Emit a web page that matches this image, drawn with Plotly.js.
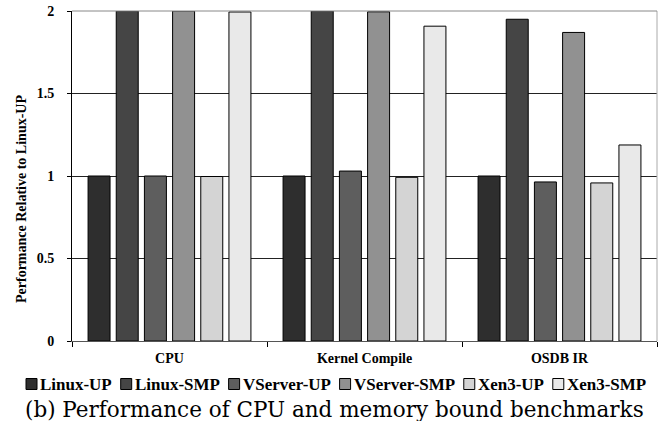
<!DOCTYPE html>
<html><head><meta charset="utf-8">
<script src="https://cdn.plot.ly/plotly-3.0.1.min.js"></script>
<style>html,body{margin:0;padding:0;background:#fff}#chart{width:669px;height:421px}</style>
</head><body><div id="chart"></div>
<script>
const categories = ["CPU", "Kernel Compile", "OSDB IR"];
const seriesNames = ["Linux-UP", "Linux-SMP", "VServer-UP", "VServer-SMP", "Xen3-UP", "Xen3-SMP"];
const linuxUP    = [1.00, 1.00, 1.00];
const linuxSMP   = [2.00, 2.00, 1.95];
const vserverUP  = [1.00, 1.03, 0.964];
const vserverSMP = [2.00, 1.995, 1.87];
const xen3UP     = [0.997, 0.992, 0.958];
const xen3SMP    = [1.994, 1.908, 1.188];
const yTicks = [0, 0.5, 1, 1.5, 2];
const yTickText = ["0", "0.5", "1", "1.5", "2"];
const yTitle = "Performance Relative to Linux-UP";
const caption = "(b) Performance of CPU and memory bound benchmarks";

const seriesValues = [linuxUP, linuxSMP, vserverUP, vserverSMP, xen3UP, xen3SMP];
const colors = ["#2e2e2e", "#454545", "#5e5e5e", "#919191", "#d4d4d4", "#e9e9e9"];
const serif = "Liberation Serif, Times New Roman, serif";

const W = 669, H = 421;
const M = {l: 72, r: 12, t: 11, b: 80};
const pw = W - M.l - M.r, ph = H - M.t - M.b;
const px2x = px => (px - M.l) / pw;
const py2y = py => (H - M.b - py) / ph;

const traces = seriesNames.map((n, i) => ({
  type: "bar", name: n, x: categories, y: seriesValues[i],
  marker: {color: colors[i], line: {color: "#000", width: 1}},
  hoverinfo: "skip", showlegend: false
}));

// custom legend (layout only)
const ctx = document.createElement("canvas").getContext("2d");
const baseSize = 15;
ctx.font = "bold " + baseSize + "px 'Liberation Serif'";
const widths = seriesNames.map(n => ctx.measureText(n).width);
const sq = 11, gapIn = 3, gapOut = 9;
const legLeft = 26, legRight = 646;
const textTotal = (legRight - legLeft) - (6 * sq + 6 * gapIn + 5 * gapOut);
const scale = textTotal / widths.reduce((a, b) => a + b, 0);
const legSize = baseSize * Math.min(Math.max(scale, 0.8), 1.2);
const legY = 384;
const shapes = [
  {type: "line", xref: "paper", yref: "paper", x0: 1, x1: 1, y0: 0, y1: 1, line: {color: "#aaaaaa", width: 1}},
  {type: "line", xref: "paper", yref: "paper", x0: 0, x1: 1, y0: 1, y1: 1, line: {color: "#888888", width: 1}}
];
const annotations = [];
let cx = legLeft;
seriesNames.forEach((n, i) => {
  shapes.push({type: "rect", xref: "paper", yref: "paper",
    x0: px2x(cx), x1: px2x(cx + sq), y0: py2y(legY + sq / 2), y1: py2y(legY - sq / 2),
    fillcolor: colors[i], line: {color: "#000", width: 1}});
  annotations.push({text: n, xref: "paper", yref: "paper", x: px2x(cx + sq + gapIn - 1), xanchor: "left",
    y: py2y(legY), yanchor: "middle", showarrow: false, borderpad: 0,
    font: {family: serif, size: legSize, weight: "bold", color: "#000"}});
  cx += sq + gapIn + widths[i] * legSize / baseSize + gapOut;
});
annotations.push({text: caption, xref: "paper", yref: "paper",
  x: px2x((25 + 644) / 2), xanchor: "center", y: py2y(409), yanchor: "middle", showarrow: false,
  font: {family: "DejaVu Serif, serif", size: 21.5, color: "#000"}});
annotations.push({text: yTitle, xref: "paper", yref: "paper", textangle: -90,
  x: px2x(21), xanchor: "center", y: py2y(199), yanchor: "middle", showarrow: false,
  font: {family: serif, size: 14, weight: "bold", color: "#000"}});

const layout = {
  width: W, height: H, margin: M,
  paper_bgcolor: "#fff", plot_bgcolor: "#fff",
  barmode: "group", bargap: 0.133, bargroupgap: 0.22,
  font: {family: serif, color: "#000"},
  showlegend: false,
  xaxis: {
    showgrid: false, showline: true, linecolor: "#555", linewidth: 1,
    ticks: "outside", tickson: "boundaries", ticklen: 5, tickcolor: "#000",
    tickfont: {family: serif, size: 14, weight: "bold"}, ticklabelstandoff: 4,
    tickangle: 0, automargin: false
  },
  yaxis: {
    range: [0, 2], tickvals: yTicks, ticktext: yTickText,
    showgrid: true, gridcolor: "#222", gridwidth: 1,
    showline: true, linecolor: "#000", linewidth: 1,
    ticks: "outside", ticklen: 4, tickcolor: "#000",
    tickfont: {family: serif, size: 14, weight: "bold"},
    zeroline: false, ticklabelstandoff: 10, automargin: false
  },
  shapes: shapes,
  annotations: annotations
};
Plotly.newPlot("chart", traces, layout, {displayModeBar: false, staticPlot: true});
</script></body></html>
